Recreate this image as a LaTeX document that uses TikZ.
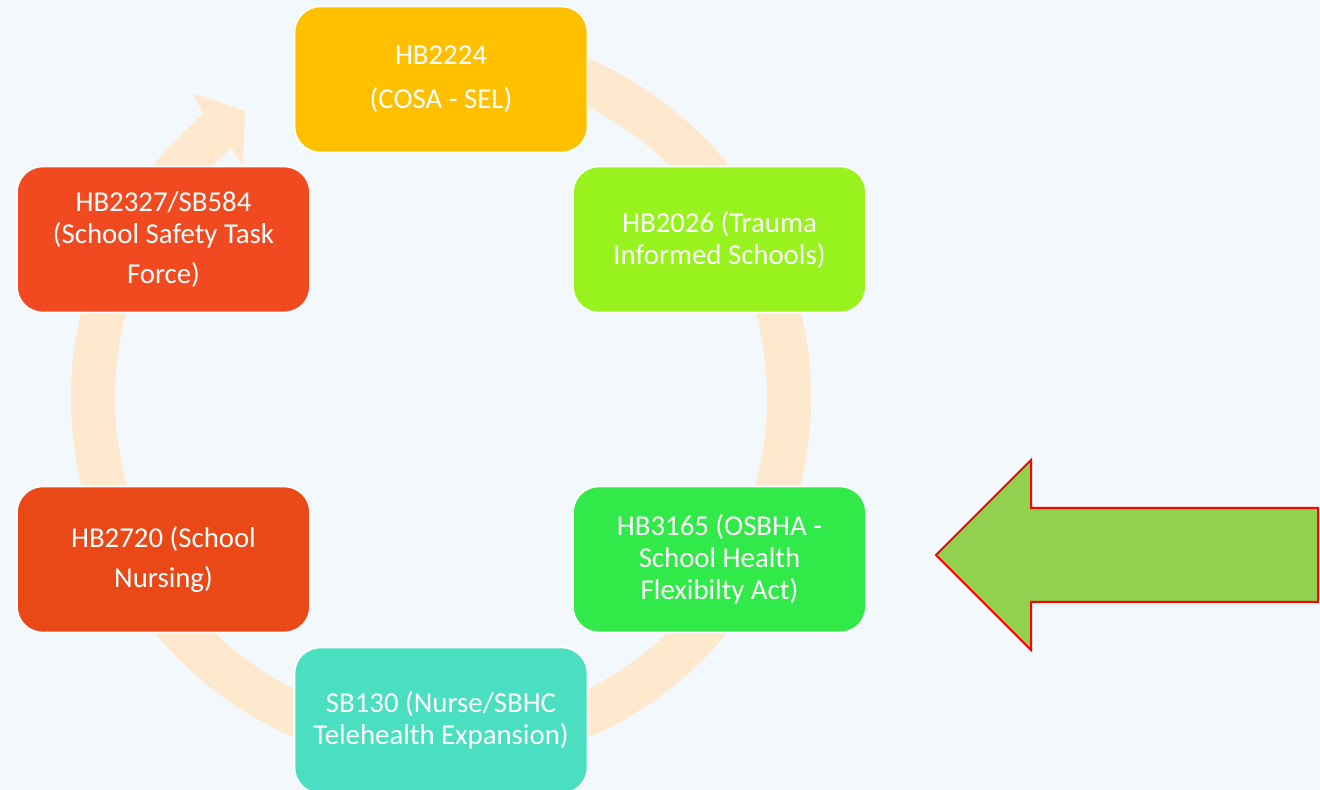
\documentclass[tikz,border=0pt]{standalone}
\usepackage{fontspec}
\setmainfont{Carlito}
\usetikzlibrary{calc}
\definecolor{bg}{RGB}{243,248,252}
\definecolor{ringc}{RGB}{254,232,206}
\definecolor{ctop}{RGB}{255,192,0}
\definecolor{crt}{RGB}{151,242,29}
\definecolor{crb}{RGB}{50,233,74}
\definecolor{cbot}{RGB}{74,223,192}
\definecolor{clb}{RGB}{234,72,22}
\definecolor{clt}{RGB}{241,74,32}
\definecolor{agreen}{RGB}{146,208,80}
\begin{document}
\begin{tikzpicture}[x=0.5pt,y=0.5pt,
  box/.style={draw=white, line width=0.8pt, rounded corners=13pt,
    minimum width=146.5pt, minimum height=73pt, align=center,
    text=white, font=\fontsize{14.4}{16}\selectfont, inner sep=2pt}]
\fill[bg] (0,0) rectangle (1320,790);
\useasboundingbox (0,0) rectangle (1320,790);
\coordinate (c) at (441,392);
% cycle ring with arrowhead
\fill[ringc] ($(c)+(108:185pt)$) arc[start angle=108,end angle=-230,radius=185pt]
  -- (193,697) -- (245,679) -- (243,625)
  -- ($(c)+(130:163pt)$) arc[start angle=-230,end angle=108,radius=163pt] -- cycle;
% boxes
\node[box, fill=ctop] (top) at (441,710.5) {HB2224\\[6pt](COSA - SEL)};
\node[box, fill=crt] (rt) at (719.5,550.5) {HB2026 (Trauma\\Informed Schools)};
\node[box, fill=crb] (rb) at (719.5,230.5) {HB3165 (OSBHA -\\School Health\\Flexibilty Act)};
\node[box, fill=cbot] (bot) at (441,69.5) {SB130 (Nurse/SBHC\\Telehealth Expansion)};
\node[box, fill=clb] (lb) at (163.5,230.5) {HB2720 (School\\[4pt]Nursing)};
\node[box, fill=clt] (lt) at (163.5,550.5) {HB2327/SB584\\(School Safety Task\\[4pt]Force)};
% big green arrow
\draw[red, line width=1pt, fill=agreen, line join=miter]
  (936,235) -- (1031,330) -- (1031,282) -- (1318,282) -- (1318,188)
  -- (1031,188) -- (1031,140) -- cycle;
\end{tikzpicture}
\end{document}
